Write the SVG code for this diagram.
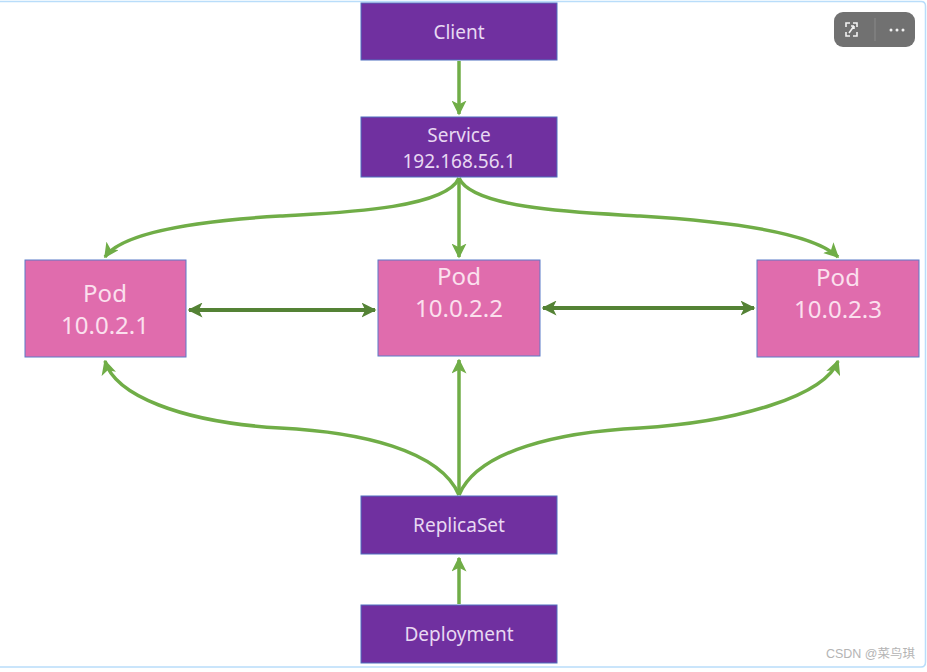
<svg xmlns="http://www.w3.org/2000/svg" width="927" height="672" viewBox="0 0 927 672">
<defs>
<style>
.box{fill:#7030A0;stroke:#4F6FBF;stroke-width:1}
.pod{fill:#E06CAD;stroke:#5B7BC8;stroke-width:1}
.t{font-family:"Noto Sans","Open Sans","Liberation Sans",sans-serif;text-anchor:middle}
.bt{fill:#E8D8F2;font-size:19px}
.pt{fill:#FBE0EE;font-size:24px}
.c{fill:none;stroke:#70AD47;stroke-width:3.5}
.d{fill:none;stroke:#548235;stroke-width:4}
</style>
<marker id="ag" viewBox="0 0 10 10" refX="9" refY="5" markerWidth="15" markerHeight="15" markerUnits="userSpaceOnUse" orient="auto-start-reverse">
<path d="M0,0 L10,5 L0,10 L2.5,5 Z" fill="#70AD47"/>
</marker>
<marker id="ad" viewBox="0 0 10 10" refX="9" refY="5" markerWidth="15" markerHeight="15" markerUnits="userSpaceOnUse" orient="auto-start-reverse">
<path d="M0,0 L10,5 L0,10 L2.5,5 Z" fill="#548235"/>
</marker>
</defs>
<rect x="0" y="0" width="927" height="672" fill="#ffffff"/>
<path d="M0,1.5 H921 Q925.5,1.5 925.5,6 V662 Q925.5,667 921,667 H0" fill="none" stroke="#B9DDFA" stroke-width="1.5"/>

<g id="connectors">
<path class="c" d="M459,61 V114" marker-end="url(#ag)"/>
<path class="c" d="M459,178 V257" marker-end="url(#ag)"/>
<path class="c" d="M459,178 C445,210 330,213 280,216 C180,222 120,235 105,257" marker-end="url(#ag)"/>
<path class="c" d="M459,178 C473,210 590,213 640,216 C740,222 815,235 838,257" marker-end="url(#ag)"/>
<path class="c" d="M459,495 V360" marker-end="url(#ag)"/>
<path class="c" d="M459,495 C440,450 360,432 280,428 C180,422 115,395 105,361" marker-end="url(#ag)"/>
<path class="c" d="M459,495 C478,450 560,432 640,428 C740,422 825,395 838,361" marker-end="url(#ag)"/>
<path class="c" d="M459,604 V558" marker-end="url(#ag)"/>
<path class="d" d="M189,310 H375" marker-start="url(#ad)" marker-end="url(#ad)"/>
<path class="d" d="M543,308 H754" marker-start="url(#ad)" marker-end="url(#ad)"/>
</g>

<g id="client">
<rect class="box" x="361" y="3" width="196" height="57"/>
<text class="t bt" x="459" y="39">Client</text>
</g>
<g id="service">
<rect class="box" x="361" y="117" width="196" height="60"/>
<text class="t bt" x="459" y="142">Service</text>
<text class="t bt" x="459" y="168">192.168.56.1</text>
</g>
<g id="pod1">
<rect class="pod" x="25" y="260" width="161" height="97"/>
<text class="t pt" x="105" y="302">Pod</text>
<text class="t pt" x="105" y="334">10.0.2.1</text>
</g>
<g id="pod2">
<rect class="pod" x="378" y="260" width="162" height="96"/>
<text class="t pt" x="459" y="285">Pod</text>
<text class="t pt" x="459" y="317">10.0.2.2</text>
</g>
<g id="pod3">
<rect class="pod" x="757" y="260" width="162" height="97"/>
<text class="t pt" x="838" y="286">Pod</text>
<text class="t pt" x="838" y="318">10.0.2.3</text>
</g>
<g id="replicaset">
<rect class="box" x="361" y="496" width="196" height="58"/>
<text class="t bt" x="459" y="532">ReplicaSet</text>
</g>
<g id="deployment">
<rect class="box" x="361" y="605" width="196" height="58"/>
<text class="t bt" x="459" y="641">Deployment</text>
</g>

<g id="toolbar">
<rect x="834" y="12" width="81" height="35" rx="9" fill="#717171"/>
<line x1="875" y1="18" x2="875" y2="41" stroke="#8a8a8a" stroke-width="1"/>
<path d="M846,27 V23 H850 M853,23 H857 V27 M857,32 V36 H853 M850,36 H846 V32 M849,33 L854,26 M854,26 H851 M854,26 V29" fill="none" stroke="#f2f2f2" stroke-width="1.6"/>
<circle cx="891" cy="30" r="1.5" fill="#f2f2f2"/>
<circle cx="897" cy="30" r="1.5" fill="#f2f2f2"/>
<circle cx="903" cy="30" r="1.5" fill="#f2f2f2"/>
</g>
<text x="915" y="658" font-family="'Liberation Sans','Noto Sans CJK SC',sans-serif" font-size="12.5" fill="#B4B4B4" text-anchor="end">CSDN @菜鸟琪</text>
</svg>
